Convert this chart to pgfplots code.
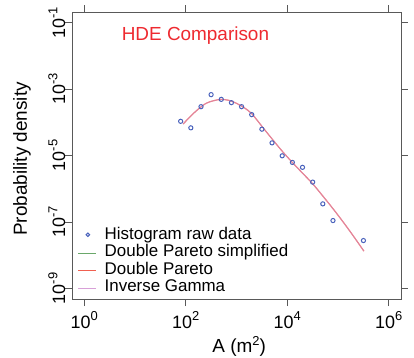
\documentclass[border=0pt]{standalone}
\usepackage{fontspec}
\setmainfont{Liberation Sans}
\usepackage{pgfplots}
\usepackage{pgfplotstable}
\pgfplotsset{compat=1.18}
\definecolor{ptblue}{HTML}{4A62BC}
\definecolor{dpred}{HTML}{F06050}
\definecolor{igpink}{HTML}{D8A0D8}
\definecolor{dpgreen}{HTML}{6AA86A}
\definecolor{titlered}{HTML}{EE2A30}
\newcommand{\sups}[1]{\raisebox{0.42em}{\fontsize{13}{13}\selectfont #1}}
\pgfplotsset{
  lineimg/.style={legend image code/.code={\path[draw=none] (0bp,0bp) -- (26.3bp,0bp); \draw[##1, opacity=1, line width=1.4bp] (0bp,0bp) -- (18bp,0bp);}},
  greenimg/.style={legend image code/.code={\path[draw=none] (0bp,0bp) -- (26.3bp,0bp); \draw[draw=dpgreen, opacity=1, line width=1.4bp] (0bp,0bp) -- (18bp,0bp);}},
  markimg/.style={legend image code/.code={\path[draw=none] (0bp,0bp) -- (26.3bp,0bp); \path[##1, draw=none, mark size=1.7bp] plot coordinates {(9.5bp,1bp)};}},
}

\pgfplotstableread{
A dens
79.4 1.07e-4
126 6.8e-5
200 2.95e-4
316 6.8e-4
501 4.9e-4
794 3.9e-4
1259 2.95e-4
1995 1.7e-4
3162 6.2e-5
5012 2.4e-5
7943 9.8e-6
12589 6.2e-6
19953 4.4e-6
31623 1.58e-6
50119 3.5e-7
79433 1.1e-7
316228 2.75e-8
}\histdata

\pgfplotstableread{
A dens
89.1 8.9e-5
125.9 1.55e-4
177.8 2.51e-4
251.2 3.72e-4
354.8 4.47e-4
501.2 4.9e-4
707.9 4.57e-4
1000 3.72e-4
1412.5 2.75e-4
1995 1.82e-4
3162 7.59e-5
5012 3.16e-5
7943 1.35e-5
12589 6.17e-6
19953 2.95e-6
31623 1.41e-6
50119 6.03e-7
79433 2.51e-7
125893 1.0e-7
199526 3.8e-8
323594 1.32e-8
}\fitdata

\begin{document}
\begin{tikzpicture}
\path[use as bounding box] (-72bp,-59bp) rectangle (342bp,299bp);
\begin{axis}[
  at={(0,0)}, anchor=south west,
  scale only axis, width=329bp, height=287bp,
  xmode=log, ymode=log,
  xmin=0.575, xmax=1.738e6, ymin=4.786e-10, ymax=0.2089,
  xtick={1,100,10000,1000000},
  xticklabels={10\sups{0},10\sups{2},10\sups{4},10\sups{6}},
  ytick={1e-9,1e-7,1e-5,1e-3,1e-1},
  yticklabels={10\sups{-9},10\sups{-7},10\sups{-5},10\sups{-3},10\sups{-1}},
  xminorticks=false, yminorticks=false,
  tick align=outside, major tick length=7bp,
  axis line style={draw=black!65, line width=0.8bp},
  tick style={black!65, line width=0.8bp},
  ticklabel style={font=\fontsize{18}{18}\selectfont},
  xticklabel style={anchor=base, yshift=-22bp},
  yticklabel style={rotate=90, anchor=base},
  xlabel={A (m\sups{2})}, ylabel={Probability density},
  label style={font=\fontsize{19}{19}\selectfont},
  xlabel style={at={(axis description cs:0.508,-0.188)}, anchor=base},
  ylabel style={at={(axis description cs:-0.1368,0.488)}, anchor=base},
  legend style={draw=none, fill=none, at={(axis description cs:0.0173,0.007)}, anchor=south west,
    inner sep=0pt, outer sep=0pt, font=\fontsize{17}{17}\selectfont,
    nodes={inner sep=0pt, text height=12.5bp, text depth=5bp}},
  legend cell align=left,
]
\addplot[only marks, mark=o, mark size=2.1bp, ptblue, mark options={line width=1bp}, markimg]
  table[x=A, y=dens] {\histdata};
\addlegendentry{Histogram raw data}
\addlegendimage{greenimg}
\addlegendentry{Double Pareto simplified}
\addplot[draw=dpred, line width=1.1bp, smooth, lineimg]
  table[x=A, y=dens] {\fitdata};
\addlegendentry{Double Pareto}
\addplot[draw=igpink, line width=1.1bp, smooth, opacity=0.55, lineimg]
  table[x=A, y=dens] {\fitdata};
\addlegendentry{Inverse Gamma}
\node[anchor=base west, font=\fontsize{19}{19}\selectfont, text=titlered]
  at (axis description cs:0.1407,0.9024) {HDE Comparison};
\end{axis}
\end{tikzpicture}
\end{document}
